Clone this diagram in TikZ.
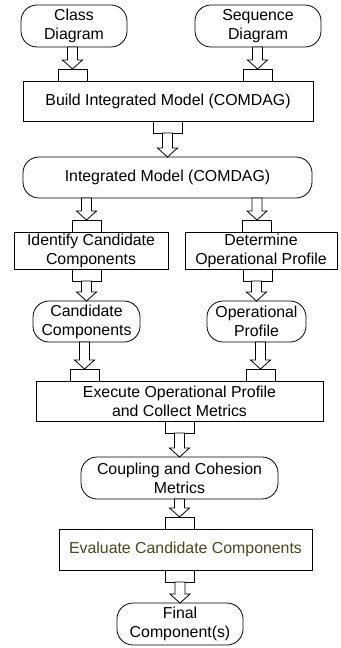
\documentclass[tikz,border=0pt]{standalone}
\usepackage{fontspec}
\setmainfont{Liberation Sans}
\usetikzlibrary{calc}
\definecolor{evaltext}{RGB}{74,70,30}

% hollow block arrow: y from #1, x from #2, tip on #2
\newcommand{\blkarrow}[2]{%
\draw[fill=white] let \p1=(#1), \p2=(#2) in
  (\x2-3.75pt,\y1)-- (\x2-3.75pt,\y2+6.75pt)-- (\x2-7.5pt,\y2+6.75pt)-- (\x2,\y2)
  -- (\x2+7.5pt,\y2+6.75pt)-- (\x2+3.75pt,\y2+6.75pt)-- (\x2+3.75pt,\y1)-- cycle;}

\begin{document}
\begin{tikzpicture}[line join=miter,x=0.75pt,y=-0.75pt,line width=0.6pt,
  every node/.style={font=\fontsize{11.9}{14.3}\selectfont,align=center,outer sep=0pt,inner sep=1pt},
  box/.style={draw},
  term/.style={draw,rounded corners=12pt},
  tab/.style={draw,minimum width=21.75pt,minimum height=9pt,inner sep=0pt}]
\useasboundingbox (0,0) rectangle (341,648);

\node[term,minimum width=79.5pt,minimum height=31.5pt] (cls) at (74,26) {Class\\Diagram};
\node[term,minimum width=94.5pt,minimum height=31.5pt] (seq) at (258,26) {Sequence\\Diagram};
\node[box,minimum width=217.5pt,minimum height=30pt] (build) at (168,101) {Build Integrated Model (COMDAG)};
\node[term,minimum width=216.75pt,minimum height=30.75pt] (integ) at (167.5,177.5) {Integrated Model (COMDAG)};
\node[box,minimum width=115.5pt,minimum height=27.75pt] (ident) at (91,250.5) {Identify Candidate\\Components};
\node[box,minimum width=114pt,minimum height=27.75pt] (determ) at (261,250.5) {Determine\\Operational Profile};
\node[term,minimum width=80.25pt,minimum height=30.75pt] (cand) at (86.5,321.5) {Candidate\\Components};
\node[term,minimum width=74.25pt,minimum height=30.75pt] (oprof) at (256.5,321.5) {Operational\\Profile};
\node[box,minimum width=215.25pt,minimum height=30pt] (exec) at (179.5,401) {Execute Operational Profile\\and Collect Metrics};
\node[term,minimum width=147.75pt,minimum height=31.5pt] (coup) at (179.5,478) {Coupling and Cohesion\\Metrics};
\node[box,minimum width=189.75pt,minimum height=30.75pt,text=evaltext] (eval) at (185.5,549.5) {Evaluate Candidate Components};
\node[term,minimum width=94.5pt,minimum height=31.5pt] (final) at (180,624) {Final\\Component(s)};

% tabs
\node[tab,anchor=south] (build-t1) at (72.5,81) {};
\node[tab,anchor=south] (build-t2) at (257.5,81) {};
\node[tab,anchor=north] (build-b) at (167.5,121) {};
\node[tab,anchor=south] (ident-t) at (86.5,232) {};
\node[tab,anchor=south] (determ-t) at (257,232) {};
\node[tab,anchor=north] (ident-b) at (86.5,269) {};
\node[tab,anchor=north] (determ-b) at (257.5,269) {};
\node[tab,anchor=south] (exec-t1) at (84.5,381) {};
\node[tab,anchor=south] (exec-t2) at (260.5,381) {};
\node[tab,anchor=north] (exec-b) at (180,421) {};
\node[tab,anchor=south] (eval-t) at (179.5,529) {};
\node[tab,anchor=north] (eval-b) at (179.5,570) {};

\blkarrow{cls.south}{build-t1.north}
\blkarrow{seq.south}{build-t2.north}
\blkarrow{build-b.south}{integ.north}
\blkarrow{integ.south}{ident-t.north}
\blkarrow{integ.south}{determ-t.north}
\blkarrow{ident-b.south}{cand.north}
\blkarrow{determ-b.south}{oprof.north}
\blkarrow{cand.south}{exec-t1.north}
\blkarrow{oprof.south}{exec-t2.north}
\blkarrow{exec-b.south}{coup.north}
\blkarrow{coup.south}{eval-t.north}
\blkarrow{eval-b.south}{final.north}
\end{tikzpicture}
\end{document}
